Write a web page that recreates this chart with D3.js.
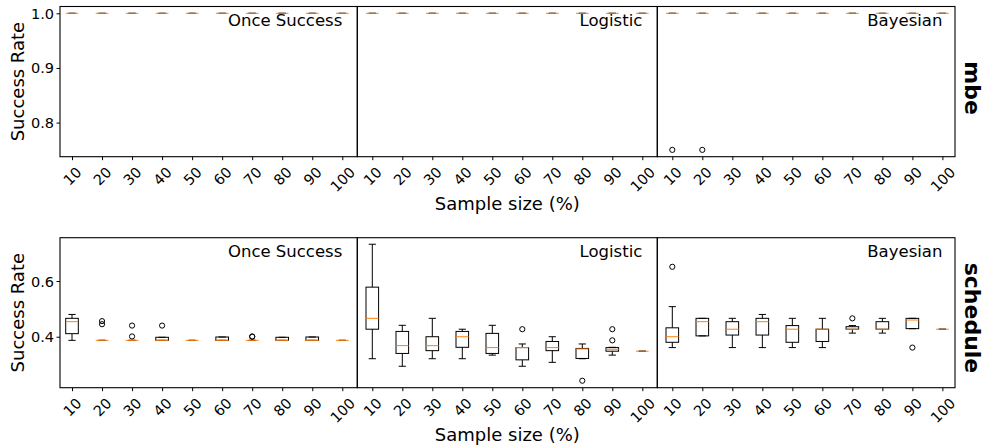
<!DOCTYPE html>
<html><head><meta charset="utf-8">
<script src="https://cdn.jsdelivr.net/npm/d3@7"></script>
<style>
body{margin:0;background:#fff}
svg{display:block}
text{font-family:"DejaVu Sans",sans-serif;fill:#000}
</style>
</head><body><svg id="c" width="986" height="447"></svg>
<script>
// ---------------- data ----------------
const sampleSizes = ["10","20","30","40","50","60","70","80","90","100"];
const methods = ["Once Success","Logistic","Bayesian"];
const datasets = ["mbe","schedule"];
const mbeYTicks = [0.8, 0.9, 1.0];
const scheduleYTicks = [0.4, 0.6];

// each entry: [whiskerLow, q1, median, q3, whiskerHigh] for sample sizes 10..100
const mbeOnceSuccess = [[1,1,1,1,1],[1,1,1,1,1],[1,1,1,1,1],[1,1,1,1,1],[1,1,1,1,1],
                        [1,1,1,1,1],[1,1,1,1,1],[1,1,1,1,1],[1,1,1,1,1],[1,1,1,1,1]];
const mbeLogistic    = [[1,1,1,1,1],[1,1,1,1,1],[1,1,1,1,1],[1,1,1,1,1],[1,1,1,1,1],
                        [1,1,1,1,1],[1,1,1,1,1],[1,1,1,1,1],[1,1,1,1,1],[1,1,1,1,1]];
const mbeBayesian    = [[1,1,1,1,1],[1,1,1,1,1],[1,1,1,1,1],[1,1,1,1,1],[1,1,1,1,1],
                        [1,1,1,1,1],[1,1,1,1,1],[1,1,1,1,1],[1,1,1,1,1],[1,1,1,1,1]];
const mbeOnceSuccessOutliers = [];
const mbeLogisticOutliers = [];
const mbeBayesianOutliers = [["10",0.75],["20",0.75]];

const scheduleOnceSuccess = [
  [0.387,0.411,0.454,0.466,0.480],
  [0.387,0.387,0.387,0.387,0.387],
  [0.387,0.387,0.387,0.387,0.387],
  [0.387,0.387,0.387,0.398,0.398],
  [0.387,0.387,0.387,0.387,0.387],
  [0.387,0.387,0.387,0.399,0.399],
  [0.387,0.387,0.387,0.387,0.387],
  [0.387,0.387,0.387,0.398,0.398],
  [0.387,0.387,0.387,0.399,0.399],
  [0.387,0.387,0.387,0.387,0.387]];
const scheduleLogistic = [
  [0.321,0.427,0.466,0.578,0.732],
  [0.294,0.340,0.368,0.419,0.441],
  [0.321,0.350,0.368,0.400,0.466],
  [0.321,0.362,0.400,0.419,0.427],
  [0.334,0.340,0.361,0.412,0.441],
  [0.294,0.317,0.361,0.361,0.374],
  [0.308,0.350,0.361,0.383,0.400],
  [0.321,0.322,0.356,0.358,0.374],
  [0.334,0.348,0.355,0.361,0.362],
  [0.348,0.348,0.348,0.348,0.348]];
const scheduleBayesian = [
  [0.361,0.380,0.400,0.432,0.508],
  [0.403,0.403,0.454,0.466,0.466],
  [0.361,0.406,0.427,0.454,0.466],
  [0.361,0.406,0.454,0.466,0.480],
  [0.361,0.380,0.427,0.440,0.466],
  [0.361,0.383,0.427,0.427,0.466],
  [0.413,0.427,0.427,0.436,0.440],
  [0.413,0.427,0.427,0.454,0.466],
  [0.429,0.429,0.460,0.466,0.466],
  [0.427,0.427,0.427,0.427,0.427]];
const scheduleOnceSuccessOutliers = [["20",0.445],["20",0.456],["30",0.401],["30",0.440],["40",0.440],["70",0.400],["70",0.401]];
const scheduleLogisticOutliers = [["60",0.427],["80",0.242],["90",0.387],["90",0.427]];
const scheduleBayesianOutliers = [["10",0.651],["70",0.466],["90",0.361]];

const boxData = {
  mbe: [mbeOnceSuccess, mbeLogistic, mbeBayesian],
  schedule: [scheduleOnceSuccess, scheduleLogistic, scheduleBayesian]
};
const outlierData = {
  mbe: [mbeOnceSuccessOutliers, mbeLogisticOutliers, mbeBayesianOutliers],
  schedule: [scheduleOnceSuccessOutliers, scheduleLogisticOutliers, scheduleBayesianOutliers]
};
const yTicks = {mbe: mbeYTicks, schedule: scheduleYTicks};

// ---------------- layout ----------------
const colX = [[60,357.3],[357.3,657.3],[657.3,955]];
const colDomain = [[0.6,10.5],[0.5,10.5],[0.5,10.42]];
const rowY = [[6.5,156.7],[237.7,387.7]];
const rowDomain = [[0.7375,1.0125],[0.217,0.7555]];
const rowLabelY = [88, 318];
const fsTick = 14.5, fsTitle = 16.5, fsLabel = 18;
const ORANGE = "#ff7f0e";
const boxHalf = 0.21, capHalf = 0.12;

const svg = d3.select("#c");

datasets.forEach((ds, r) => {
  const [top, bottom] = rowY[r];
  const y = d3.scaleLinear().domain(rowDomain[r]).range([bottom, top]);
  methods.forEach((m, c) => {
    const [left, right] = colX[c];
    const x = d3.scaleLinear().domain(colDomain[c]).range([left, right]);
    const pos = s => sampleSizes.indexOf(s) + 1;
    const g = svg.append("g");

    // x axis
    const xa = g.append("g").attr("transform", `translate(0,${bottom})`)
      .call(d3.axisBottom(x).tickValues(sampleSizes.map((s,i)=>i+1))
        .tickFormat(i => sampleSizes[i-1]).tickSize(3.5).tickPadding(0));
    xa.select(".domain").remove();
    xa.selectAll(".tick line").attr("stroke","#000").attr("stroke-width",1);
    xa.selectAll(".tick text").each(function(){
      const t = d3.select(this);
      t.attr("font-size", fsTick).attr("font-family","DejaVu Sans").attr("dy",null)
       .attr("text-anchor","middle").attr("dominant-baseline","central").attr("y",0);
      const w = this.getComputedTextLength();
      const h = fsTick * 1.16;
      const H = (w + h) / Math.SQRT2;
      t.attr("transform", `translate(0,${3.5 + 3.5 + H/2}) rotate(-45)`);
    });

    // y axis (only first column)
    if (c === 0) {
      const ya = g.append("g").attr("transform", `translate(${left},0)`)
        .call(d3.axisLeft(y).tickValues(yTicks[ds]).tickFormat(d3.format(".1f"))
          .tickSize(3.5).tickPadding(2.5));
      ya.select(".domain").remove();
      ya.selectAll(".tick line").attr("stroke","#000").attr("stroke-width",1);
      ya.selectAll(".tick text").attr("font-size", fsTick).attr("font-family","DejaVu Sans")
        .attr("dy",null).attr("dominant-baseline","central");
    }

    // boxes
    const stats = boxData[ds][c];
    const bg = g.append("g").attr("fill","none").attr("stroke-width",1);
    stats.forEach((s, i) => {
      const p = i + 1;
      const [lo, q1, med, q3, hi] = s;
      bg.append("line").attr("x1",x(p)).attr("x2",x(p)).attr("y1",y(q1)).attr("y2",y(lo)).attr("stroke","#000");
      bg.append("line").attr("x1",x(p)).attr("x2",x(p)).attr("y1",y(q3)).attr("y2",y(hi)).attr("stroke","#000");
      bg.append("line").attr("x1",x(p-capHalf)).attr("x2",x(p+capHalf)).attr("y1",y(lo)).attr("y2",y(lo)).attr("stroke","#000");
      bg.append("line").attr("x1",x(p-capHalf)).attr("x2",x(p+capHalf)).attr("y1",y(hi)).attr("y2",y(hi)).attr("stroke","#000");
      bg.append("rect").attr("x",x(p-boxHalf)).attr("width",x(p+boxHalf)-x(p-boxHalf))
        .attr("y",y(q3)).attr("height",Math.max(0,y(q1)-y(q3))).attr("stroke","#000");
      bg.append("line").attr("x1",x(p-boxHalf)).attr("x2",x(p+boxHalf)).attr("y1",y(med)).attr("y2",y(med)).attr("stroke",ORANGE);
    });
    // outliers
    g.append("g").selectAll("circle").data(outlierData[ds][c]).join("circle")
      .attr("cx", d => x(pos(d[0]))).attr("cy", d => y(d[1])).attr("r", 2.6)
      .attr("fill","none").attr("stroke","#000").attr("stroke-width",1);

    // frame
    g.append("rect").attr("x",left).attr("y",top).attr("width",right-left).attr("height",bottom-top)
      .attr("fill","none").attr("stroke","#000").attr("stroke-width",1.1);

    // title
    g.append("text").attr("x", x(10)).attr("y", top + 19.5).attr("text-anchor","end")
      .attr("font-size", fsTitle).text(m);
  });

  // y label
  svg.append("text").attr("transform",`translate(24,${(top+bottom)/2}) rotate(-90)`)
    .attr("text-anchor","middle").attr("font-size",fsLabel).text("Success Rate");
  // x label
  svg.append("text").attr("x",(colX[1][0]+colX[1][1])/2).attr("y", bottom + 53)
    .attr("text-anchor","middle").attr("font-size",fsLabel).text("Sample size (%)");
  // row label
  svg.append("text").attr("transform",`translate(965,${rowLabelY[r]}) rotate(90)`)
    .attr("text-anchor","middle").attr("font-size",22).attr("font-weight","bold").text(ds);
});
</script>
</body></html>
